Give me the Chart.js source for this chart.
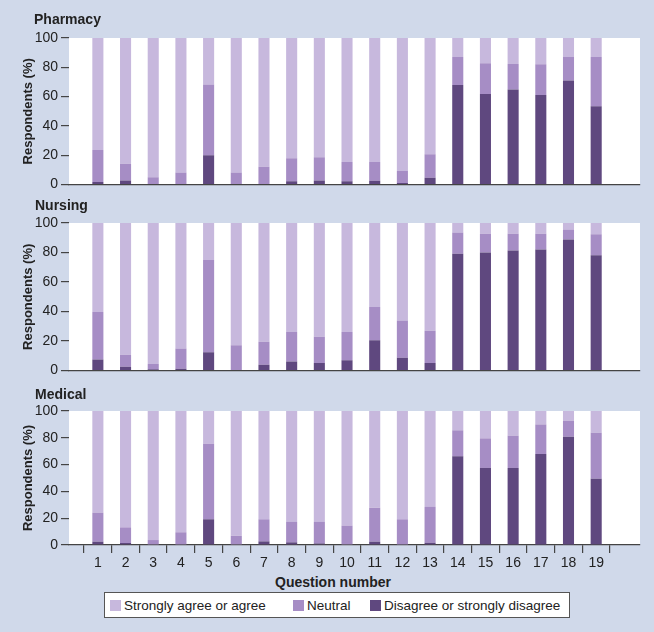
<!DOCTYPE html>
<html>
<head>
<meta charset="utf-8">
<script src="https://cdn.jsdelivr.net/npm/chart.js@4.4.0/dist/chart.umd.min.js"></script>
<style>
    body {
        margin: 0;
        background: #d0d9ea;
        font-family: "Liberation Sans", Arial, sans-serif;
        color: #222;
    }
    #page { position: relative; width: 654px; height: 632px; overflow: hidden; }
    .panel { position: absolute; left: 0; width: 654px; }
    .panelTitle { position: absolute; left: 34px; font-size: 14px; font-weight: bold; line-height: 16px; }
    #xTitle { position: absolute; left: 233px; width: 200px; top: 574px; text-align: center; font-size: 14px; font-weight: bold; line-height: 16px; }
    #legend {
        position: absolute; left: 104px; top: 592px; width: 464px; height: 24px;
        background: #fff; border: 1px solid #555;
        font-size: 13.5px; white-space: nowrap;
    }
    .item { position: absolute; top: 0; height: 24px; display: flex; align-items: center; }
    .swatch { width: 11px; height: 11px; margin-right: 3px; flex-shrink: 0; }
</style>
</head>
<body>
<div id="page">
    <div class="panel" style="top:0;height:196px"><canvas id="pharmacyChart"></canvas></div>
    <div class="panel" style="top:196px;height:186px"><canvas id="nursingChart"></canvas></div>
    <div class="panel" style="top:382px;height:190px"><canvas id="medicalChart"></canvas></div>
    <div class="panelTitle" style="top:11px">Pharmacy</div>
    <div class="panelTitle" style="top:197px;left:35px">Nursing</div>
    <div class="panelTitle" style="top:386px;left:35px">Medical</div>
    <div id="xTitle">Question number</div>
    <div id="legend"></div>
</div>
<script>
const questions = [1, 2, 3, 4, 5, 6, 7, 8, 9, 10, 11, 12, 13, 14, 15, 16, 17, 18, 19];
const seriesNames = ['Disagree or strongly disagree', 'Neutral', 'Strongly agree or agree'];

// Pharmacy
const pharmacyDisagree = [1.7, 2.8, 0, 0, 20.1, 0, 0, 2.2, 2.8, 2.2, 2.6, 1.1, 4.6, 67.9, 61.8, 64.8, 61.1, 71.0, 53.5];
const pharmacyNeutral = [21.9, 11.4, 5.0, 8.3, 48.2, 8.3, 12.2, 15.7, 15.8, 13.3, 12.9, 8.1, 16.1, 19.2, 21.0, 17.5, 21.0, 16.1, 33.6];
const pharmacyAgree = [76.4, 85.8, 95.0, 91.7, 31.7, 91.7, 87.8, 82.1, 81.4, 84.5, 84.5, 90.8, 79.3, 12.9, 17.2, 17.7, 17.9, 12.9, 12.9];

// Nursing
const nursingDisagree = [7.6, 2.6, 0.9, 1.3, 12.4, 0, 3.9, 6.1, 5.2, 7.0, 20.5, 8.7, 5.2, 79.1, 80.0, 81.3, 82.1, 88.9, 78.2];
const nursingNeutral = [32.1, 8.1, 3.5, 13.7, 62.5, 17.2, 15.7, 20.0, 17.7, 19.1, 22.6, 25.3, 21.8, 14.4, 12.8, 11.5, 10.7, 6.7, 14.2];
const nursingAgree = [60.3, 89.3, 95.6, 85.0, 25.1, 82.8, 80.4, 73.9, 77.1, 73.9, 56.9, 66.0, 73.0, 6.5, 7.2, 7.2, 7.2, 4.4, 7.6];

// Medical
const medicalDisagree = [2.5, 1.5, 0, 0, 19.2, 0, 2.7, 2.0, 1.2, 0, 2.5, 0, 1.7, 66.2, 57.5, 57.5, 67.9, 80.8, 49.5];
const medicalNeutral = [21.6, 11.7, 3.7, 9.5, 56.4, 7.0, 16.5, 15.2, 16.0, 14.4, 25.4, 19.2, 26.7, 19.4, 22.1, 24.1, 22.1, 12.0, 34.3];
const medicalAgree = [75.9, 86.8, 96.3, 90.5, 24.4, 93.0, 80.8, 82.8, 82.8, 85.6, 72.1, 80.8, 71.6, 14.4, 20.4, 18.4, 10.0, 7.2, 16.2];

const colors = ['#5f487f', '#a68dc5', '#c7b8dd'];

Chart.defaults.font.family = '"Liberation Sans", Arial, sans-serif';
Chart.defaults.color = '#222';

// fondo blanco del área de gráfico
const plotBackground = {
    id: 'plotBackground',
    beforeDraw(chart) {
        const { ctx, chartArea } = chart;
        ctx.save();
        ctx.fillStyle = '#ffffff';
        ctx.fillRect(chartArea.left, chartArea.top, chartArea.right - chartArea.left, chartArea.bottom - chartArea.top);
        ctx.restore();
    },
};

function makePanel(canvasId, disagree, neutral, agree, showX, padding) {
    const values = [disagree, neutral, agree];
    const datasets = values.map((series, i) => ({
        label: seriesNames[i],
        data: series.map((v, j) => ({ x: questions[j], y: v })),
        backgroundColor: colors[i],
        borderWidth: 0,
        barPercentage: 0.4,
        categoryPercentage: 1,
    }));

    return new Chart(document.getElementById(canvasId).getContext('2d'), {
        type: 'bar',
        data: { datasets: datasets },
        options: {
            responsive: true,
            maintainAspectRatio: false,
            animation: false,
            layout: { padding: padding },
            plugins: {
                legend: { display: false },
                tooltip: { enabled: false },
            },
            scales: {
                x: {
                    type: 'linear',
                    stacked: true,
                    min: 0.5,
                    max: 20.04,
                    afterBuildTicks: scale => {
                        scale.ticks = questions.map(q => ({ value: q }));
                    },
                    afterFit: scale => {
                        scale.height = showX ? 24 : 0;
                    },
                    grid: {
                        display: showX,
                        offset: true,
                        drawOnChartArea: false,
                        drawTicks: true,
                        tickLength: 8,
                        color: '#444',
                        lineWidth: 1.2,
                    },
                    border: { display: true, color: '#444', width: 1.3 },
                    ticks: {
                        display: showX,
                        autoSkip: false,
                        maxRotation: 0,
                        padding: 2,
                        font: { size: 14 },
                        color: '#222',
                    },
                },
                y: {
                    stacked: true,
                    min: 0,
                    max: 100,
                    afterFit: scale => {
                        scale.width = 51;
                    },
                    ticks: {
                        stepSize: 20,
                        padding: 3,
                        font: { size: 14 },
                        color: '#222',
                    },
                    grid: {
                        drawOnChartArea: false,
                        drawTicks: true,
                        tickLength: 8,
                        color: '#444',
                        lineWidth: 1.2,
                    },
                    border: { display: false },
                    title: {
                        display: true,
                        text: 'Respondents (%)',
                        font: { size: 13, weight: 'bold' },
                        color: '#222',
                        padding: { top: 3, bottom: 0 },
                    },
                },
            },
        },
        plugins: [plotBackground],
    });
}

makePanel('pharmacyChart', pharmacyDisagree, pharmacyNeutral, pharmacyAgree, false, { left: 18, right: 14, top: 38, bottom: 6 });
makePanel('nursingChart', nursingDisagree, nursingNeutral, nursingAgree, false, { left: 18, right: 14, top: 27, bottom: 6 });
makePanel('medicalChart', medicalDisagree, medicalNeutral, medicalAgree, true, { left: 18, right: 14, top: 29, bottom: 3 });

// leyenda
const legend = document.getElementById('legend');
const legendLeft = [5, 188, 265];
[2, 1, 0].forEach((i, k) => {
    const item = document.createElement('div');
    item.className = 'item';
    item.style.left = legendLeft[k] + 'px';
    const swatch = document.createElement('span');
    swatch.className = 'swatch';
    swatch.style.background = colors[i];
    item.appendChild(swatch);
    const text = document.createElement('span');
    text.textContent = seriesNames[i];
    item.appendChild(text);
    legend.appendChild(item);
});
</script>
</body>
</html>
